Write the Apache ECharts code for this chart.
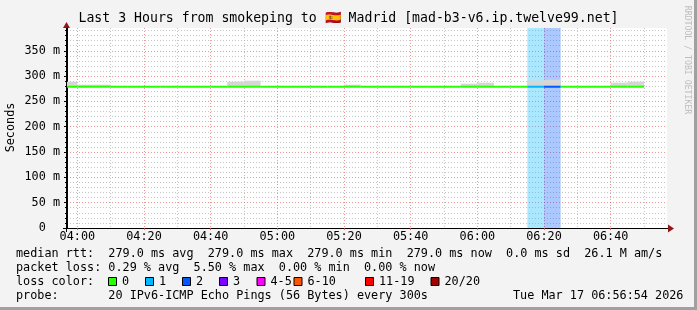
<!DOCTYPE html>
<html><head><meta charset="utf-8">
<script src="https://cdn.jsdelivr.net/npm/echarts@6/dist/echarts.min.js"></script>
<style>html,body{margin:0;padding:0;background:#f3f3f3}#c{width:697px;height:310px}</style>
</head><body><div id="c"></div>
<script>
// ---------- data ----------
const TITLE = 'Last 3 Hours from smokeping to 🇪🇸 Madrid [mad-b3-v6.ip.twelve99.net]';
const Y_LABEL = 'Seconds';
const X_START = '03:56:54';
const X_END = '06:56:54';
const stepStarts = ['03:55','04:00','04:05','04:10','04:15','04:20','04:25','04:30','04:35','04:40',
  '04:45','04:50','04:55','05:00','05:05','05:10','05:15','05:20','05:25','05:30',
  '05:35','05:40','05:45','05:50','05:55','06:00','06:05','06:10','06:15','06:20',
  '06:25','06:30','06:35','06:40','06:45'];
const medianMs = [279,279,279,279,279,279,279,279,279,279,
  279,279,279,279,279,279,279,279,279,279,
  279,279,279,279,279,279,279,279,279,279,
  279,279,279,279,279];
const smokeTopMs = [289,283,283,279,279,279,279,279,279,279,
  289,291,279,279,279,279,279,283,279,279,
  279,279,279,279,285,287,279,279,291,293,
  279,279,279,287,289];
const lossPings = [0,0,0,0,0,0,0,0,0,0,
  0,0,0,0,0,0,0,0,0,0,
  0,0,0,0,0,0,0,0,1,2,
  0,0,0,0,0];
const xMajorTicks = ['04:00','04:20','04:40','05:00','05:20','05:40','06:00','06:20','06:40'];
const xMinorTicks = ['04:10','04:30','04:50','05:10','05:30','05:50','06:10','06:30','06:50'];
const yMajorTicks = [0,50,100,150,200,250,300,350];
const yMinorTicks = [10,20,30,40,60,70,80,90,110,120,130,140,160,170,180,190,210,220,230,240,
  260,270,280,290,310,320,330,340,360,370,380,390];
const Y_MAX = 395;
const lossLabels = ['0','1','2','3','4-5','6-10','11-19','20/20'];
const lossColors = ['#26ff00','#00b8ff','#0059ff','#7e00ff','#ff00ff','#ff5500','#ff0000','#a10000'];
const legendLine1 = 'median rtt:  279.0 ms avg  279.0 ms max  279.0 ms min  279.0 ms now  0.0 ms sd  26.1 M am/s';
const legendLine2 = 'packet loss: 0.29 % avg  5.50 % max  0.00 % min  0.00 % now';
const legendLine3 = 'loss color:';
const legendLine4 = 'probe:       20 IPv6-ICMP Echo Pings (56 Bytes) every 300s';
const stampText = 'Tue Mar 17 06:56:54 2026';
const creditText = 'RRDTOOL / TOBI OETIKER';
const STEP_MIN = 5;

// ---------- helpers ----------
function toMin(s){const p=s.split(':').map(Number);return p[0]*60+p[1]+(p[2]||0)/60;}
function fmt(m){const h=Math.floor(m/60),mm=Math.round(m-h*60);return String(h).padStart(2,'0')+':'+String(mm).padStart(2,'0');}
function lossColorIdx(n){ if(n<=3) return n; if(n<=5) return 4; if(n<=10) return 5; if(n<=19) return 6; return 7; }
function hexA(hex,a){const r=parseInt(hex.slice(1,3),16),g=parseInt(hex.slice(3,5),16),b=parseInt(hex.slice(5,7),16);return `rgba(${r},${g},${b},${a})`;}

const X_MIN = toMin(X_START), X_MAX = toMin(X_END);
const MONO = 'DejaVu Sans Mono';
const FS = 11.8, CW = 7.1, LX = 16;
const GRID_GRAY = 'rgba(128,128,128,0.45)';
const GRID_RED = 'rgba(224,80,80,0.6)';

const steps = stepStarts.map((s,i)=>[toMin(s), toMin(s)+STEP_MIN, medianMs[i], smokeTopMs[i], lossPings[i]]);
const bandData = steps.filter(d=>d[4]>0);

const chart = echarts.init(document.getElementById('c'), null, {renderer:'canvas'});

const legendTexts = [];
function txt(x,y,t,extra){return Object.assign({type:'text',x:x,y:y,silent:true,style:Object.assign({text:t,font:FS+'px "'+MONO+'"',fill:'#000',textVerticalAlign:'middle',textAlign:'left'},extra||{})});}
legendTexts.push(txt(LX,254.3,legendLine1));
legendTexts.push(txt(LX,268.3,legendLine2));
legendTexts.push(txt(LX,282.3,legendLine3));
legendTexts.push(txt(LX,296.2,legendLine4));
legendTexts.push(txt(LX+70*CW,296.2,stampText));
const swatchX = [108,145,182,219,256.5,293.5,365,430.5];
lossLabels.forEach((lab,i)=>{
  legendTexts.push({type:'rect',silent:true,shape:{x:swatchX[i]+0.5,y:277.5,width:8,height:8},style:{fill:lossColors[i],stroke:'#000',lineWidth:1}});
  legendTexts.push(txt(swatchX[i]+14,282.3,lab));
});

const option = {
  animation:false,
  backgroundColor:'#f3f3f3',
  grid:{left:67,top:28,width:600,height:200,show:true,backgroundColor:'#ffffff',borderWidth:0},
  xAxis:[
    {type:'value',min:X_MIN,max:X_MAX,position:'bottom',
      axisLine:{show:false},
      axisTick:{show:false,customValues:xMinorTicks.map(toMin)},
      axisLabel:{show:false,customValues:xMinorTicks.map(toMin)},
      splitLine:{show:true,lineStyle:{color:GRID_GRAY,width:1,type:[1,2]}}},
    {type:'value',min:X_MIN,max:X_MAX,position:'bottom',
      axisLine:{show:true,lineStyle:{color:'#000',width:1}},
      axisTick:{show:true,length:2,customValues:xMajorTicks.map(toMin),lineStyle:{color:'rgba(224,80,80,0.8)'}},
      axisLabel:{customValues:xMajorTicks.map(toMin),formatter:v=>fmt(v),margin:3,fontFamily:MONO,fontSize:FS,color:'#000'},
      splitLine:{show:true,lineStyle:{color:GRID_RED,width:1,type:[1,2]}}}
  ],
  yAxis:[
    {type:'value',min:0,max:Y_MAX,position:'left',
      axisLine:{show:true,lineStyle:{color:'#000',width:1}},
      axisTick:{show:true,length:3,customValues:yMajorTicks,lineStyle:{color:'#000'}},
      axisLabel:{customValues:yMajorTicks,formatter:v=>v===0?'0  ':v+' m',margin:7,fontFamily:MONO,fontSize:FS,color:'#000'},
      splitLine:{show:true,showMinLine:false,lineStyle:{color:GRID_RED,width:1,type:[1,2]}}},
    {type:'value',min:0,max:Y_MAX,position:'left',
      axisLine:{show:false},
      axisTick:{show:true,length:2,customValues:yMinorTicks,lineStyle:{color:'#000'}},
      axisLabel:{show:false,customValues:yMinorTicks},
      splitLine:{show:true,lineStyle:{color:GRID_GRAY,width:1,type:[1,2]}}}
  ],
  series:[
    {type:'custom',name:'loss band',xAxisIndex:1,yAxisIndex:0,clip:true,silent:true,z:1,
      data:bandData,
      renderItem:(params,api)=>{
        const s=api.value(0),e=api.value(1),l=api.value(4);
        const p0=api.coord([s,Y_MAX]),p1=api.coord([e,0]);
        return {type:'rect',shape:{x:p0[0],y:p0[1],width:p1[0]-p0[0],height:p1[1]-p0[1]},style:{fill:hexA(lossColors[lossColorIdx(l)],0.33)}};
      }},
    {type:'custom',name:'smoke',xAxisIndex:1,yAxisIndex:0,clip:true,silent:true,z:2,
      data:steps,
      renderItem:(params,api)=>{
        const s=api.value(0),e=api.value(1),med=api.value(2),top=api.value(3);
        const p0=api.coord([s,top]),p1=api.coord([e,med]);
        return {type:'rect',shape:{x:p0[0],y:p0[1],width:p1[0]-p0[0],height:p1[1]-p0[1]},style:{fill:'#d6d6d6'}};
      }},
    {type:'custom',name:'median',xAxisIndex:1,yAxisIndex:0,clip:true,silent:true,z:3,
      data:steps,
      renderItem:(params,api)=>{
        const s=api.value(0),e=api.value(1),med=api.value(2),l=api.value(4);
        const p0=api.coord([s,med]),p1=api.coord([e,med]);
        return {type:'rect',shape:{x:p0[0],y:p0[1]-1,width:p1[0]-p0[0],height:2},style:{fill:lossColors[lossColorIdx(l)]}};
      }}
  ],
  graphic:[
    {type:'text',x:348.5,y:19,silent:true,style:{text:TITLE,font:'13.2px "'+MONO+'"',fill:'#000',textAlign:'center',textVerticalAlign:'middle'}},
    {type:'text',x:10.5,y:127.5,rotation:Math.PI/2,silent:true,style:{text:Y_LABEL,font:FS+'px "'+MONO+'"',fill:'#000',textAlign:'center',textVerticalAlign:'middle'}},
    {type:'text',x:687,y:60,rotation:-Math.PI/2,silent:true,style:{text:creditText,font:'8.2px "'+MONO+'"',fill:'#bdbdbd',textAlign:'center',textVerticalAlign:'middle'}},
    {type:'line',silent:true,shape:{x1:63,y1:228.5,x2:668,y2:228.5},style:{stroke:'#000',lineWidth:1}},
    {type:'line',silent:true,shape:{x1:66.5,y1:232,x2:66.5,y2:27},style:{stroke:'#000',lineWidth:1}},
    {type:'polygon',silent:true,shape:{points:[[668,224.5],[674,228.5],[668,232.5]]},style:{fill:'#901818'}},
    {type:'polygon',silent:true,shape:{points:[[63,28],[66.5,22],[70,28]]},style:{fill:'#901818'}},
    {type:'rect',silent:true,shape:{x:694,y:0,width:3,height:310},style:{fill:'#a0a0a0'}},
    {type:'rect',silent:true,shape:{x:0,y:307,width:697,height:3},style:{fill:'#a0a0a0'}}
  ].concat(legendTexts)
};
chart.setOption(option);
</script></body></html>
